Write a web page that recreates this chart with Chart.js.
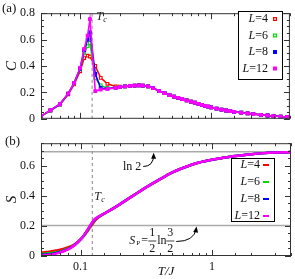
<!DOCTYPE html>
<html>
<head>
<meta charset="utf-8">
<script src="https://cdn.jsdelivr.net/npm/chart.js@4.4.1/dist/chart.umd.min.js"></script>
<style>
html, body { margin: 0; padding: 0; background: #fff; overflow: hidden; }
#wrap { position: relative; width: 295px; height: 279px; }
canvas { position: absolute; left: 0; }
#ca { top: 0; }
#cb { top: 130px; }
</style>
</head>
<body>
<div id="wrap">
  <canvas id="ca" width="295" height="132"></canvas>
  <canvas id="cb" width="295" height="149"></canvas>
</div>
<script>
/* temperatures T/J of the specific heat points */
var tC = [0.05, 0.059, 0.0697, 0.0807, 0.0896, 0.0995, 0.107, 0.1136, 0.1184, 0.130, 0.143, 0.161, 0.186,
  0.2, 0.22, 0.24, 0.26, 0.28, 0.30, 0.33, 0.36, 0.40, 0.44, 0.48, 0.52, 0.56, 0.60, 0.65, 0.70, 0.75,
  0.80, 0.85, 0.90, 0.95, 1.0, 1.1, 1.2, 1.3, 1.4, 1.5, 1.7, 1.9, 2.1, 2.4, 2.7, 3.0, 3.4, 3.8, 4.0];

/* specific heat C for each size */
var cL4 = [0.02, 0.062, 0.108, 0.185, 0.26, 0.36, 0.46, 0.478, 0.472, 0.40, 0.31, 0.265, 0.245,
  0.243, 0.246, 0.25, 0.252, 0.253, 0.252, 0.245, 0.233, 0.21, 0.195, 0.18, 0.168, 0.158, 0.15, 0.14, 0.13, 0.122,
  0.113, 0.105, 0.098, 0.092, 0.086, 0.077, 0.069, 0.063, 0.058, 0.053, 0.046, 0.041, 0.036, 0.030, 0.025, 0.021, 0.017, 0.014, 0.013];
var cL6 = [0.02, 0.063, 0.11, 0.19, 0.268, 0.375, 0.50, 0.55, 0.575, 0.31, 0.253, 0.232, 0.236,
  0.24, 0.246, 0.25, 0.252, 0.253, 0.252, 0.245, 0.233, 0.21, 0.195, 0.18, 0.168, 0.158, 0.15, 0.14, 0.13, 0.122,
  0.113, 0.105, 0.098, 0.092, 0.086, 0.077, 0.069, 0.063, 0.058, 0.053, 0.046, 0.041, 0.036, 0.030, 0.025, 0.021, 0.017, 0.014, 0.013];
var cL8 = [0.02, 0.064, 0.11, 0.19, 0.27, 0.38, 0.52, 0.60, 0.655, 0.34, 0.232, 0.228, 0.235,
  0.24, 0.246, 0.25, 0.252, 0.253, 0.252, 0.245, 0.233, 0.21, 0.195, 0.18, 0.168, 0.158, 0.15, 0.14, 0.13, 0.122,
  0.113, 0.105, 0.098, 0.092, 0.086, 0.077, 0.069, 0.063, 0.058, 0.053, 0.046, 0.041, 0.036, 0.030, 0.025, 0.021, 0.017, 0.014, 0.013];
var cL12 = [0.02, 0.065, 0.112, 0.19, 0.272, 0.385, 0.53, 0.63, 0.755, 0.21, 0.222, 0.226, 0.234,
  0.24, 0.246, 0.25, 0.252, 0.253, 0.252, 0.245, 0.233, 0.21, 0.195, 0.18, 0.168, 0.158, 0.15, 0.14, 0.13, 0.122,
  0.113, 0.105, 0.098, 0.092, 0.086, 0.077, 0.069, 0.063, 0.058, 0.053, 0.046, 0.041, 0.036, 0.030, 0.025, 0.021, 0.017, 0.014, 0.013];

/* temperatures of the entropy curves */
var tS = [0.05, 0.055, 0.06, 0.065, 0.07, 0.075, 0.08, 0.085, 0.09, 0.095, 0.1, 0.105, 0.11, 0.115, 0.12, 0.125,
  0.13, 0.135, 0.14, 0.15, 0.16, 0.18, 0.2, 0.23, 0.26, 0.3, 0.35, 0.4, 0.45, 0.5, 0.6, 0.7, 0.8, 1.0, 1.2, 1.5,
  2.0, 2.5, 3.0, 3.5, 4.0];

/* entropy S for each size */
var sL4 = [0.022, 0.026, 0.031, 0.036, 0.042, 0.049, 0.057, 0.066, 0.078, 0.093, 0.111, 0.13, 0.152, 0.175, 0.198, 0.22,
  0.238, 0.252, 0.263, 0.28, 0.294, 0.32, 0.345, 0.38, 0.41, 0.445, 0.48, 0.51, 0.535, 0.556, 0.585, 0.607, 0.622, 0.64, 0.652, 0.665,
  0.677, 0.684, 0.688, 0.69, 0.691];
var sL6 = [0.013, 0.016, 0.02, 0.025, 0.031, 0.039, 0.049, 0.06, 0.074, 0.091, 0.11, 0.131, 0.155, 0.18, 0.205, 0.228,
  0.246, 0.256, 0.265, 0.28, 0.294, 0.32, 0.345, 0.38, 0.41, 0.445, 0.48, 0.51, 0.535, 0.556, 0.585, 0.607, 0.622, 0.64, 0.652, 0.665,
  0.677, 0.684, 0.688, 0.69, 0.691];
var sL8 = [0.007, 0.01, 0.014, 0.019, 0.027, 0.035, 0.046, 0.058, 0.073, 0.09, 0.11, 0.131, 0.157, 0.183, 0.209, 0.232,
  0.248, 0.257, 0.266, 0.28, 0.294, 0.32, 0.345, 0.38, 0.41, 0.445, 0.48, 0.51, 0.535, 0.556, 0.585, 0.607, 0.622, 0.64, 0.652, 0.665,
  0.677, 0.684, 0.688, 0.69, 0.691];
var sL12 = [0.003, 0.006, 0.01, 0.016, 0.024, 0.033, 0.044, 0.056, 0.072, 0.09, 0.11, 0.132, 0.158, 0.185, 0.212, 0.235,
  0.25, 0.258, 0.266, 0.28, 0.294, 0.32, 0.345, 0.38, 0.41, 0.445, 0.48, 0.51, 0.535, 0.556, 0.585, 0.607, 0.622, 0.64, 0.652, 0.665,
  0.677, 0.684, 0.688, 0.69, 0.691];

var sizes = ['L=4', 'L=6', 'L=8', 'L=12'];
var colores = ['#ff0000', '#00dd00', '#0000ff', '#ff00ff'];

/* reference values */
var Tc = 0.123;
var ln2 = 0.6931;
var sP = 0.2027;

var serif = "'Liberation Serif', 'DejaVu Serif', serif";

function puntos(xs, ys) {
  return xs.map(function (x, i) { return { x: x, y: ys[i] }; });
}

function esDecada(v) {
  var l = Math.log10(v);
  return Math.abs(l - Math.round(l)) < 1e-6;
}

function etiquetaY(v) {
  var r = Math.round(v / 0.2);
  if (Math.abs(v - r * 0.2) > 1e-6) return '';
  return r === 0 ? '0' : (r * 0.2).toFixed(1);
}

function linea(ctx, x1, y1, x2, y2) {
  ctx.beginPath(); ctx.moveTo(x1, y1); ctx.lineTo(x2, y2); ctx.stroke();
}

/* marco y marcas hacia dentro, como en gnuplot */
var marco = {
  id: 'marco',
  afterDatasetsDraw: function (chart) {
    var ctx = chart.ctx, a = chart.chartArea, xs = chart.scales.x, ys = chart.scales.y;
    ctx.save();
    ctx.strokeStyle = '#333';
    ctx.lineWidth = 1;
    xs.ticks.forEach(function (t) {
      var px = Math.round(xs.getPixelForValue(t.value)) + 0.5;
      var len = esDecada(t.value) ? 6 : 3;
      linea(ctx, px, a.bottom, px, a.bottom - len);
      linea(ctx, px, a.top, px, a.top + len);
    });
    ys.ticks.forEach(function (t) {
      var py = Math.round(ys.getPixelForValue(t.value)) + 0.5;
      var len = etiquetaY(t.value) !== '' ? 6 : 3;
      linea(ctx, a.left, py, a.left + len, py);
      linea(ctx, a.right, py, a.right - len, py);
    });
    ctx.strokeRect(a.left + 0.5, a.top + 0.5, a.right - a.left - 1, a.bottom - a.top - 1);
    ctx.restore();
  }
};

/* "L=4" con la L en cursiva, alineado a la derecha */
function textoL(ctx, txt, xDer, y) {
  var resto = txt.slice(1);
  ctx.font = '12px ' + serif;
  var w2 = ctx.measureText(resto).width;
  ctx.font = 'italic 12px ' + serif;
  var w1 = ctx.measureText('L').width;
  ctx.textAlign = 'left';
  ctx.textBaseline = 'middle';
  ctx.fillText('L', xDer - w1 - w2, y);
  ctx.font = '12px ' + serif;
  ctx.fillText(resto, xDer - w2, y);
}

function leyenda(chart, caja, filas, xTexto, xMarca, conPunto) {
  var ctx = chart.ctx;
  ctx.save();
  ctx.fillStyle = '#fff';
  ctx.fillRect(caja[0], caja[1], caja[2] - caja[0], caja[3] - caja[1]);
  ctx.strokeStyle = '#000';
  ctx.lineWidth = 1;
  ctx.strokeRect(caja[0] + 0.5, caja[1] + 0.5, caja[2] - caja[0], caja[3] - caja[1]);
  chart.data.datasets.forEach(function (ds) {
    var k = sizes.indexOf(ds.label);
    if (k < 0) return;
    var y = filas[k];
    ctx.fillStyle = '#111';
    textoL(ctx, ds.label, xTexto, y);
    ctx.strokeStyle = ds.borderColor;
    ctx.fillStyle = ds.borderColor;
    if (conPunto) {
      ctx.lineWidth = 1.2;
      ctx.fillRect(xMarca - 2, y - 2, 4, 4);
      if (k < 2) { ctx.fillStyle = '#fff'; ctx.fillRect(xMarca - 0.8, y - 0.8, 1.6, 1.6); }
    } else {
      ctx.lineWidth = 2;
      linea(ctx, xMarca - 3, y, xMarca + 3, y);
    }
  });
  ctx.restore();
}

function tc(ctx, x, y) {
  ctx.fillStyle = '#222';
  ctx.textAlign = 'left';
  ctx.textBaseline = 'middle';
  ctx.font = 'italic 12px ' + serif;
  ctx.fillText('T', x, y);
  ctx.font = 'italic 8px ' + serif;
  ctx.fillText('c', x + 7, y + 3);
}

function flecha(ctx, x0, y0, cx, cy, x1, y1) {
  ctx.strokeStyle = '#000';
  ctx.fillStyle = '#000';
  ctx.lineWidth = 1;
  ctx.beginPath(); ctx.moveTo(x0, y0); ctx.quadraticCurveTo(cx, cy, x1, y1); ctx.stroke();
  var ang = Math.atan2(y1 - cy, x1 - cx);
  ctx.beginPath();
  ctx.moveTo(x1 + 2 * Math.cos(ang), y1 + 2 * Math.sin(ang));
  ctx.lineTo(x1 - 4 * Math.cos(ang) + 2.5 * Math.sin(ang), y1 - 4 * Math.sin(ang) - 2.5 * Math.cos(ang));
  ctx.lineTo(x1 - 4 * Math.cos(ang) - 2.5 * Math.sin(ang), y1 - 4 * Math.sin(ang) + 2.5 * Math.cos(ang));
  ctx.closePath(); ctx.fill();
}

var decoA = {
  id: 'decoA',
  afterDraw: function (chart) {
    var ctx = chart.ctx, xs = chart.scales.x, ys = chart.scales.y;
    ctx.save();
    ctx.fillStyle = '#111';
    ctx.font = '13px ' + serif;
    ctx.textAlign = 'left';
    ctx.textBaseline = 'middle';
    ctx.fillText('(a)', 2, 9);
    tc(ctx, xs.getPixelForValue(Tc) + 4, ys.getPixelForValue(0.775));
    ctx.restore();
    leyenda(chart, [238, 11, 282, 79], [19, 35.5, 52, 68.5], 268, 275, true);
  }
};

var decoB = {
  id: 'decoB',
  afterDraw: function (chart) {
    var ctx = chart.ctx, xs = chart.scales.x, ys = chart.scales.y;
    ctx.save();
    ctx.fillStyle = '#111';
    ctx.font = '13px ' + serif;
    ctx.textAlign = 'left';
    ctx.textBaseline = 'middle';
    ctx.fillText('(b)', 5, 12);
    tc(ctx, xs.getPixelForValue(Tc) + 2, ys.getPixelForValue(0.394));

    /* ln 2 */
    var yl = ys.getPixelForValue(0.595);
    ctx.fillStyle = '#111';
    ctx.font = '12px ' + serif;
    ctx.textAlign = 'right';
    ctx.fillText('ln 2', xs.getPixelForValue(0.29), yl);
    var xa = xs.getPixelForValue(0.36);
    flecha(ctx, xs.getPixelForValue(0.3), yl, xa, yl, xa, ys.getPixelForValue(ln2) + 3);

    /* S_P = 1/2 ln 3/2 */
    var x0 = xs.getPixelForValue(0.235), y0 = ys.getPixelForValue(0.103);
    ctx.textAlign = 'left';
    ctx.fillStyle = '#111';
    ctx.font = 'italic 12px ' + serif;
    ctx.fillText('S', x0, y0);
    ctx.font = '7px ' + serif;
    ctx.fillText('P', x0 + 7, y0 + 3);
    ctx.font = '12px ' + serif;
    ctx.fillText('=', x0 + 12, y0);
    ctx.textAlign = 'center';
    ctx.fillText('1', x0 + 23, y0 - 8);
    ctx.fillText('2', x0 + 23, y0 + 8);
    ctx.fillText('3', x0 + 41, y0 - 8);
    ctx.fillText('2', x0 + 41, y0 + 8);
    ctx.textAlign = 'left';
    ctx.fillText('ln', x0 + 28, y0);
    ctx.strokeStyle = '#111';
    ctx.lineWidth = 0.8;
    linea(ctx, x0 + 19, y0 + 0.5, x0 + 27, y0 + 0.5);
    linea(ctx, x0 + 37, y0 + 0.5, x0 + 45, y0 + 0.5);
    var xb = xs.getPixelForValue(0.76);
    flecha(ctx, x0 + 47, y0 + 1, xb - 2, y0 + 1, xb, ys.getPixelForValue(sP) + 3);
    ctx.restore();
    leyenda(chart, [231, 28, 274, 91], [35, 52, 69, 86], 260, 266, false);
  }
};

function ejeX(conEtiquetas) {
  return {
    type: 'logarithmic',
    min: 0.05,
    max: 4,
    grid: { display: false, drawTicks: false },
    border: { display: false },
    ticks: {
      display: conEtiquetas,
      autoSkip: false,
      maxRotation: 0,
      minRotation: 0,
      padding: 4,
      color: '#111',
      font: { family: serif, size: 12 },
      callback: function (v) {
        if (Math.abs(v - 0.1) < 1e-9) return '0.1';
        if (Math.abs(v - 1) < 1e-9) return '1';
        return '';
      }
    },
    title: {
      display: conEtiquetas,
      text: 'T/J',
      color: '#111',
      padding: 0,
      font: { family: serif, size: 13, style: 'italic' }
    },
    afterFit: function (s) { s.height = conEtiquetas ? 23 : 4; }
  };
}

function ejeY(maximo, titulo) {
  return {
    min: 0,
    max: maximo,
    grid: { display: false, drawTicks: false },
    border: { display: false },
    ticks: {
      stepSize: 0.05,
      autoSkip: false,
      padding: 6,
      color: '#111',
      font: { family: serif, size: 12 },
      callback: etiquetaY
    },
    title: {
      display: true,
      text: titulo,
      color: '#111',
      padding: { top: 3, bottom: 0 },
      font: { family: serif, size: 15, style: 'italic' }
    },
    afterFit: function (s) { s.width = 41; }
  };
}

function serieC(k, valores) {
  return {
    label: sizes[k],
    data: puntos(tC, valores),
    borderColor: colores[k],
    backgroundColor: k < 2 ? '#ffffff' : colores[k],
    borderWidth: 1.6,
    pointStyle: 'rect',
    pointRadius: 1.9,
    pointBorderWidth: 1.1,
    pointBorderColor: colores[k],
    tension: 0,
    order: 4 - k
  };
}

function serieS(k, valores) {
  return {
    label: sizes[k],
    data: puntos(tS, valores),
    borderColor: colores[k],
    borderWidth: 2.5,
    pointRadius: 0,
    tension: 0.3,
    order: 4 - k
  };
}

function guia(datos, discontinua) {
  return {
    label: 'guia',
    data: datos,
    borderColor: discontinua ? '#999' : '#aaa',
    borderWidth: discontinua ? 1.2 : 1.4,
    borderDash: discontinua ? [3, 3] : [],
    pointRadius: 0,
    order: 10
  };
}

Chart.defaults.animation = false;

new Chart(document.getElementById('ca').getContext('2d'), {
  type: 'line',
  data: {
    datasets: [
      guia([{ x: Tc, y: 0 }, { x: Tc, y: 0.8 }], true),
      serieC(0, cL4), serieC(1, cL6), serieC(2, cL8), serieC(3, cL12)
    ]
  },
  options: {
    responsive: false,
    animation: false,
    layout: { padding: { top: 5, right: 3, left: 0, bottom: 0 } },
    plugins: { legend: { display: false }, tooltip: { enabled: false } },
    scales: { x: ejeX(false), y: ejeY(0.8, 'C') }
  },
  plugins: [marco, decoA]
});

new Chart(document.getElementById('cb').getContext('2d'), {
  type: 'line',
  data: {
    datasets: [
      guia([{ x: Tc, y: 0 }, { x: Tc, y: 0.75 }], true),
      guia([{ x: 0.05, y: ln2 }, { x: 4, y: ln2 }], false),
      guia([{ x: 0.05, y: sP }, { x: 4, y: sP }], false),
      serieS(0, sL4), serieS(1, sL6), serieS(2, sL8), serieS(3, sL12)
    ]
  },
  options: {
    responsive: false,
    animation: false,
    layout: { padding: { top: 1, right: 3, left: 0, bottom: 0 } },
    plugins: { legend: { display: false }, tooltip: { enabled: false } },
    scales: { x: ejeX(true), y: ejeY(0.75, 'S') }
  },
  plugins: [marco, decoB]
});
</script>
</body>
</html>
